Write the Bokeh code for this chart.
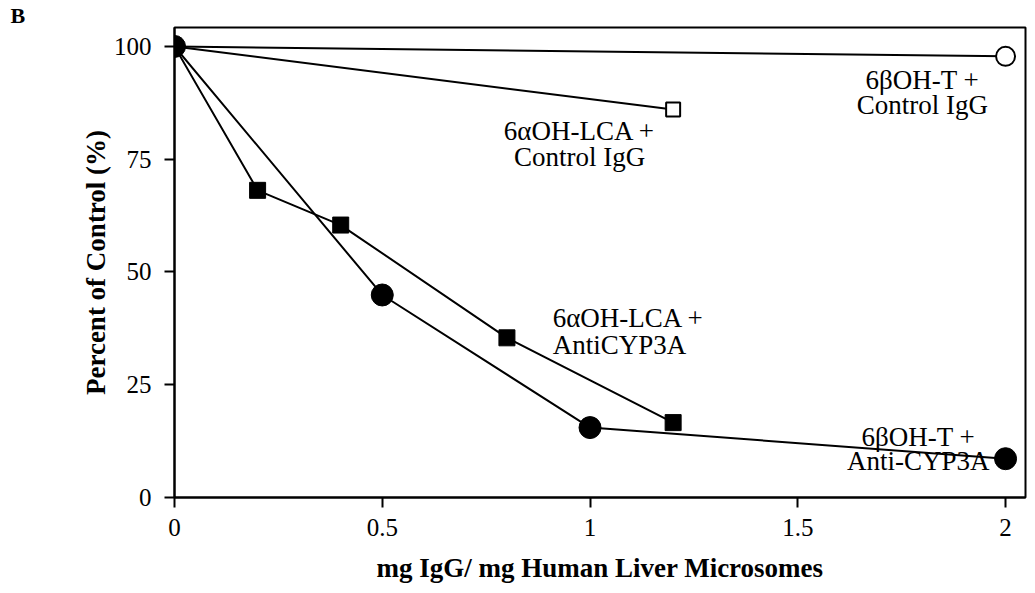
from bokeh.plotting import figure
from bokeh.models import FixedTicker, Range1d
from bokeh.core.properties import value
from bokeh.embed import file_html
from bokeh.resources import INLINE

# ---- data ----
t_ctrl_x = [0, 2]
t_ctrl_y = [100, 97.8]
lca_ctrl_x = [0, 1.2]
lca_ctrl_y = [100, 86]
lca_anti_x = [0, 0.2, 0.4, 0.8, 1.2]
lca_anti_y = [100, 68.1, 60.4, 35.4, 16.6]
t_anti_x = [0, 0.5, 1, 2]
t_anti_y = [100, 44.9, 15.5, 8.6]

x_ticks = [0, 0.5, 1, 1.5, 2]
x_tick_labels = ["0", "0.5", "1", "1.5", "2"]
y_ticks = [0, 25, 50, 75, 100]
y_tick_labels = ["0", "25", "50", "75", "100"]

# annotation lines: (text, x, y, align)
annotations = [
    ("6βOH-T +", 1.80, 92.6, "center"),
    ("Control IgG", 1.80, 87.0, "center"),
    ("6αOH-LCA +", 0.975, 81.2, "center"),
    ("Control IgG", 0.975, 75.6, "center"),
    ("6αOH-LCA +", 0.91, 39.8, "left"),
    ("AntiCYP3A", 0.91, 33.9, "left"),
    ("6βOH-T +", 1.79, 13.5, "center"),
    ("Anti-CYP3A", 1.79, 8.0, "center"),
]

panel_label = "B"
FONT = "Liberation Serif"

p = figure(width=1027, height=585, output_backend="svg", toolbar_location=None,
           x_range=Range1d(0, 2.048), y_range=Range1d(0, 104.2),
           min_border_left=174, min_border_top=10, min_border_right=2,
           min_border_bottom=87, title=panel_label)
p.title.align = "left"
p.title.offset = -164
p.title.standoff = 0
p.title.text_font = FONT
p.title.text_font_size = "22px"
p.title.text_font_style = "bold"
p.title.text_color = "black"
p.grid.visible = False
p.outline_line_color = "black"
p.outline_line_width = 2
p.background_fill_color = "white"
p.border_fill_color = "white"

for ax in (p.xaxis[0], p.yaxis[0]):
    ax.axis_line_width = 2
    ax.major_tick_line_width = 2
    ax.major_tick_in = 0
    ax.major_tick_out = 10
    ax.minor_tick_line_color = None
    ax.major_label_text_font = FONT
    ax.major_label_text_font_size = "25px"
    ax.major_label_text_color = "black"
    ax.axis_label_text_font = FONT
    ax.axis_label_text_font_size = "27px"
    ax.axis_label_text_font_style = "bold"
    ax.axis_label_text_color = "black"

p.xaxis.ticker = FixedTicker(ticks=x_ticks)
p.xaxis.major_label_overrides = {t: l for t, l in zip(x_ticks, x_tick_labels)}
p.yaxis.ticker = FixedTicker(ticks=y_ticks)
p.yaxis.major_label_overrides = {t: l for t, l in zip(y_ticks, y_tick_labels)}
p.xaxis.major_label_standoff = 11
p.yaxis.major_label_standoff = 13
p.xaxis.axis_label = "mg IgG/ mg Human Liver Microsomes"
p.yaxis.axis_label = "Percent of Control (%)"
p.xaxis.axis_label_standoff = 14
p.yaxis.axis_label_standoff = 0

lw = 2
p.line(t_ctrl_x, t_ctrl_y, line_color="black", line_width=lw)
p.line(lca_ctrl_x, lca_ctrl_y, line_color="black", line_width=lw)
p.line(lca_anti_x, lca_anti_y, line_color="black", line_width=lw)
p.line(t_anti_x, t_anti_y, line_color="black", line_width=lw)

p.scatter(t_ctrl_x[1:], t_ctrl_y[1:], marker="circle", size=19, fill_color="white",
          line_color="black", line_width=2)
p.scatter(lca_ctrl_x[1:], lca_ctrl_y[1:], marker="square", size=14, fill_color="white",
          line_color="black", line_width=2)
p.scatter(lca_anti_x[1:], lca_anti_y[1:], marker="square", size=16, fill_color="black",
          line_color="black")
p.scatter(t_anti_x, t_anti_y, marker="circle", size=22, fill_color="black",
          line_color="black")

for align in ("center", "left"):
    sel = [a for a in annotations if a[3] == align]
    p.text(x=[a[1] for a in sel], y=[a[2] for a in sel], text=[a[0] for a in sel],
           text_font=value(FONT), text_font_size="27px", text_align=align,
           text_baseline="middle", text_color="black")

open("out.html", "w").write(file_html(p, INLINE))
